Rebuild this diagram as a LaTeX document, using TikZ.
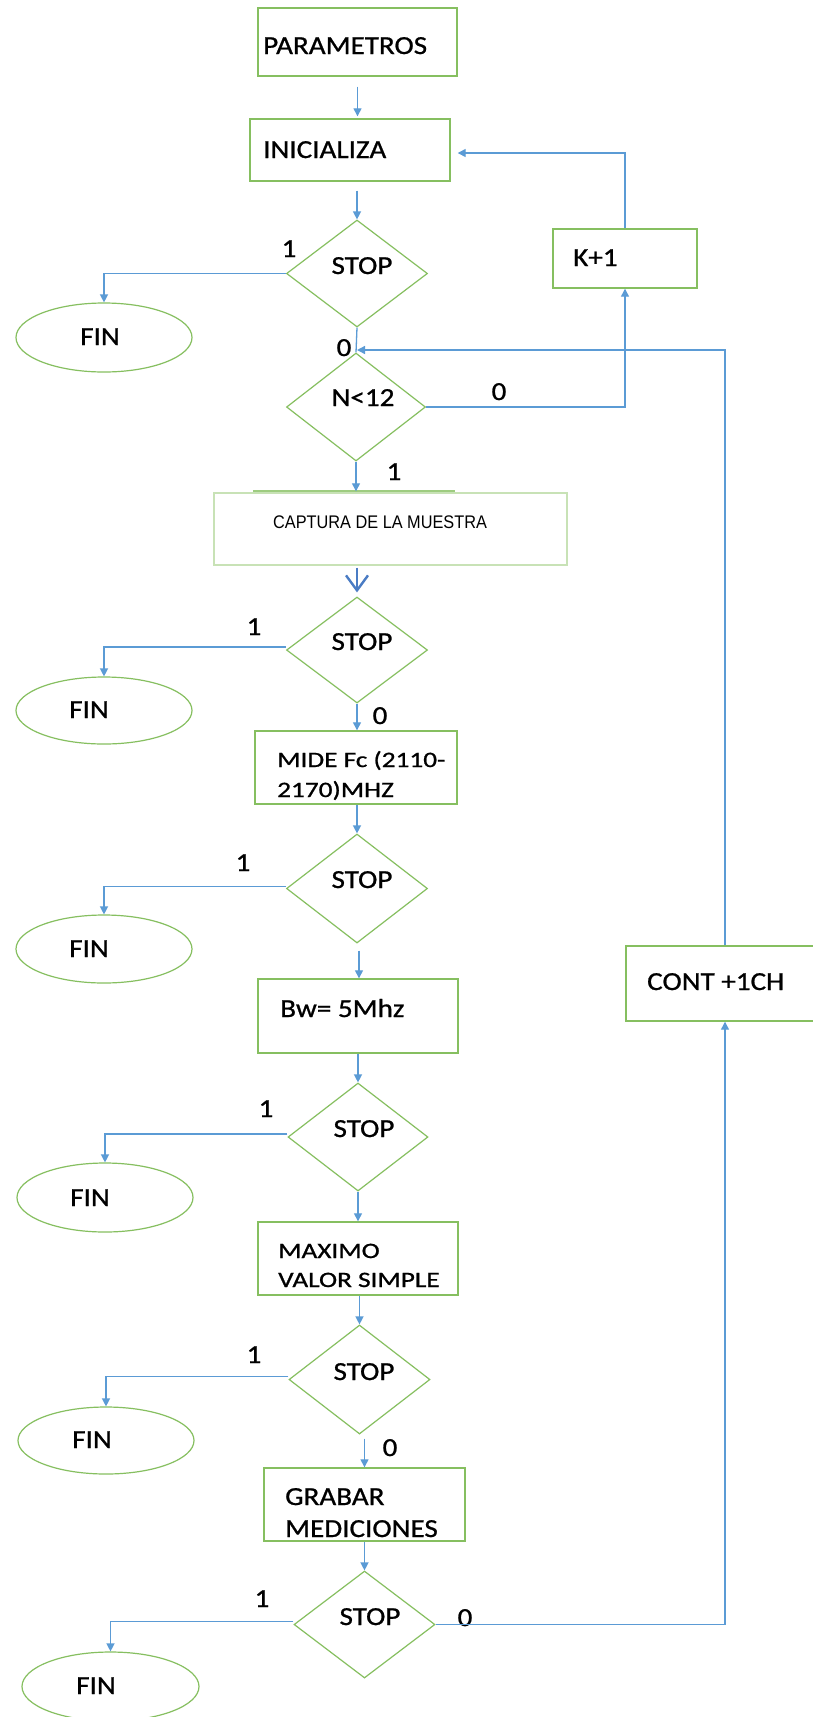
\documentclass[tikz,border=0pt]{standalone}
\usepackage{fontspec}
\usetikzlibrary{shapes.geometric,arrows.meta}
\newfontfamily\carlfont[FakeBold=0.8]{Carlito}
\newfontfamily\arialfont{Liberation Sans}
\newcommand\carl{\carlfont\fontsize{26}{30}\selectfont}
\newcommand\carls{\carlfont\fontsize{22}{26}\selectfont}
\newcommand\ct[1]{\scalebox{1.12}[1]{#1}}
\newcommand\cts[1]{\scalebox{1.24}[1]{#1}}
\definecolor{boxg}{HTML}{86BF60}
\definecolor{boxl}{HTML}{C8E2B6}
\definecolor{arrb}{HTML}{5B9BD5}
\definecolor{arrd}{HTML}{4A7CC4}
\tikzset{
  box/.style={draw=boxg, line width=1.4pt, inner sep=0pt},
  dia/.style={diamond, draw=boxg, line width=1.2pt, inner sep=0pt},
  term/.style={ellipse, draw=boxg, line width=1.2pt, inner sep=0pt},
  arr/.style={draw=arrb, line width=1.3pt, -{Triangle[length=8pt,width=8pt]}},
  ln/.style={draw=arrb, line width=1.3pt},
  txt/.style={inner sep=0pt, font=\carl, anchor=base west},
  stxt/.style={inner sep=0pt, font=\carls, anchor=base west},
  ctxt/.style={inner sep=0pt, font=\carl, anchor=base},
}
\begin{document}
\begin{tikzpicture}[x=1pt,y=-1pt]
\fill[white] (0,0) rectangle (813,1717);
\useasboundingbox (0,0) rectangle (813,1717);

% process boxes
\node[box, minimum width=199pt, minimum height=68pt] (par) at (357.5,42) {};
\node[box, minimum width=200pt, minimum height=62pt] (ini) at (350,150) {};
\node[box, minimum width=144pt, minimum height=59pt] (kp1) at (625,258.5) {};
\node[box, draw=boxl, minimum width=353pt, minimum height=72pt] (cap) at (390.5,529) {};
\node[box, minimum width=202pt, minimum height=73pt] (mide) at (356,767.5) {};
\node[box, minimum width=200pt, minimum height=74pt] (bw) at (358,1016) {};
\node[box, minimum width=200pt, minimum height=73pt] (max) at (358,1258.5) {};
\node[box, minimum width=201pt, minimum height=73pt] (grab) at (364.5,1504.5) {};
\node[box, minimum width=204pt, minimum height=75pt] (cont) at (728,983.5) {};
\draw[draw=boxg!80, line width=1.5pt] (253,491) -- (455,491);

% decisions
\node[dia, minimum width=141pt, minimum height=107pt] (s1) at (357,273.5) {};
\node[dia, minimum width=139pt, minimum height=108pt] (n12) at (356,407) {};
\node[dia, minimum width=141pt, minimum height=106pt] (s2) at (357,650) {};
\node[dia, minimum width=141pt, minimum height=109pt] (s3) at (357,888.5) {};
\node[dia, minimum width=140pt, minimum height=108pt] (s4) at (358,1137) {};
\node[dia, minimum width=141pt, minimum height=109pt] (s5) at (359.5,1379.5) {};
\node[dia, minimum width=141pt, minimum height=107pt] (s6) at (364.5,1624.5) {};

% terminals
\node[term, minimum width=176pt, minimum height=69pt] (f1) at (104,337.5) {};
\node[term, minimum width=176pt, minimum height=67pt] (f2) at (104,710.5) {};
\node[term, minimum width=176pt, minimum height=68pt] (f3) at (104,949) {};
\node[term, minimum width=176pt, minimum height=69pt] (f4) at (105,1197.5) {};
\node[term, minimum width=176pt, minimum height=67pt] (f5) at (106,1440.5) {};
\node[term, minimum width=177pt, minimum height=69pt] (f6) at (110.5,1686.5) {};

% texts
\node[txt] at (263,54) {\ct{PARAMETROS}};
\node[txt] at (263,158) {\ct{INICIALIZA}};
\node[txt] at (573,266) {\ct{K+1}};
\node[inner sep=0pt, anchor=base west, font=\arialfont\fontsize{16.3}{19}\selectfont] at (273,528) {\scalebox{1}[1.12]{CAPTURA DE LA MUESTRA}};
\node[stxt] at (277,767) {\cts{MIDE Fc (2110-}};
\node[stxt] at (277,797) {\cts{2170)MHZ}};
\node[txt] at (280,1017) {\ct{Bw= 5Mhz}};
\node[stxt] at (278,1258) {\cts{MAXIMO}};
\node[stxt] at (278,1287) {\cts{VALOR SIMPLE}};
\node[txt] at (285,1505) {\ct{GRABAR}};
\node[txt] at (285,1537) {\ct{MEDICIONES}};
\node[txt] at (647,990) {\ct{CONT +1CH}};

\node[ctxt] at (362,274) {\ct{STOP}};
\node[ctxt] at (363,406) {\ct{N<12}};
\node[ctxt] at (362,650) {\ct{STOP}};
\node[ctxt] at (362,888) {\ct{STOP}};
\node[ctxt] at (364,1137) {\ct{STOP}};
\node[ctxt] at (364,1380) {\ct{STOP}};
\node[ctxt] at (370,1625) {\ct{STOP}};

\node[ctxt] at (100,345) {\ct{FIN}};
\node[ctxt] at (89,718) {\ct{FIN}};
\node[ctxt] at (89,957) {\ct{FIN}};
\node[ctxt] at (90,1206) {\ct{FIN}};
\node[ctxt] at (92,1448) {\ct{FIN}};
\node[ctxt] at (96,1694) {\ct{FIN}};

% branch labels
\node[ctxt] at (289,257) {\ct{1}};
\node[ctxt] at (254,635) {\ct{1}};
\node[ctxt] at (243,871) {\ct{1}};
\node[ctxt] at (266,1117) {\ct{1}};
\node[ctxt] at (254,1363) {\ct{1}};
\node[ctxt] at (262,1607) {\ct{1}};
\node[ctxt] at (344,356) {\ct{0}};
\node[ctxt] at (499,400) {\ct{0}};
\node[ctxt] at (394,480) {\ct{1}};
\node[ctxt] at (380,724) {\ct{0}};
\node[ctxt] at (390,1456) {\ct{0}};
\node[ctxt] at (465,1626) {\ct{0}};

% connectors
\coordinate (j1) at (357,350);
\draw[arr, shorten <=10pt, shorten >=2pt] (par.south) -- (par.south |- ini.north);
\draw[arr, shorten <=9pt] (s1.north |- ini.south) -- (s1.north);
\draw[arr] (s1.west) -| (f1.north);
\draw[ln] (s1.south) -- (n12.north);
\draw[arr] ([xshift=-3pt]cont.north) |- (j1);
\draw[arr] (n12.east) -| (kp1.south);
\draw[arr, shorten >=7pt] (kp1.north) |- ([yshift=-3pt]ini.east);
\draw[arr, shorten >=1pt] (n12.south) -- (n12.south |- cap.north);
\draw[draw=arrd, line width=2.4pt, -{Straight Barb[length=15pt,width=22pt,line width=2.4pt]}, shorten <=2pt, shorten >=4pt] (s2.north |- cap.south) -- (s2.north);
\draw[arr] ([yshift=3pt]s2.west) -| (f2.north);
\draw[arr] (s2.south) -- (s2.south |- mide.north);
\draw[arr] (s3.north |- mide.south) -- (s3.north);
\draw[arr] ([yshift=2pt]s3.west) -| (f3.north);
\draw[arr, shorten <=7pt] ([xshift=2pt]s3.south) -- ([xshift=2pt]s3.south |- bw.north);
\draw[arr] (s4.north |- bw.south) -- (s4.north);
\draw[arr] ([yshift=3pt]s4.west) -| (f4.north);
\draw[arr] (s4.south) -- (s4.south |- max.north);
\draw[arr] (s5.north |- max.south) -- (s5.north);
\draw[arr] ([yshift=3pt]s5.west) -| (f5.north);
\draw[arr, shorten <=4pt] (grab.north |- s5.south) -- (grab.north);
\draw[arr] (s6.north |- grab.south) -- (s6.north);
\draw[arr] ([yshift=3pt]s6.west) -| (f6.north);
\draw[arr] (s6.east) -| ([xshift=-3pt]cont.south);
\end{tikzpicture}
\end{document}
